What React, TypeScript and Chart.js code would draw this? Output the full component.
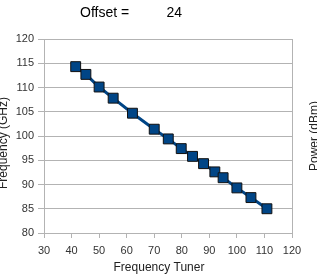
import React, { useEffect, useRef } from "react";
import { Chart, registerables } from "chart.js";

Chart.register(...registerables);

const tunerValues = [41.5, 45.2, 50, 55.1, 62.1, 70, 75.1, 79.8, 83.9, 87.9, 92, 95, 100, 105.1, 110.9];
const frequencyValues = [114.3, 112.7, 110.1, 107.8, 104.7, 101.4, 99.4, 97.4, 95.8, 94.3, 92.6, 91.4, 89.3, 87.3, 85.0];
const titleLabel = "Offset =";
const titleValue = "24";
const xTitle = "Frequency Tuner";
const yTitle = "Frequency (GHz)";
const y2Title = "Power (dBm)";

const FONT = "'Liberation Sans', Arial, sans-serif";
const GRID = "#b3b3b3";

const titlesPlugin = {
  id: "customTitles",
  afterDraw(chart: any) {
    const ctx = chart.ctx;
    ctx.save();
    ctx.fillStyle = "#000";
    ctx.font = `14px ${FONT}`;
    ctx.textBaseline = "middle";
    ctx.textAlign = "left";
    ctx.fillText(titleLabel, 80, 13);
    ctx.fillText(titleValue, 166.5, 13);

    ctx.fillStyle = "#222";
    ctx.font = `12px ${FONT}`;
    ctx.textAlign = "center";
    ctx.fillText(xTitle, 159, 268);

    ctx.save();
    ctx.translate(4, 143);
    ctx.rotate(-Math.PI / 2);
    ctx.fillText(yTitle, 0, 0);
    ctx.restore();

    ctx.save();
    ctx.translate(315, 136);
    ctx.rotate(-Math.PI / 2);
    ctx.fillText(y2Title, 0, 0);
    ctx.restore();
    ctx.restore();
  },
};

export default function App() {
  const ref = useRef<HTMLCanvasElement>(null);

  useEffect(() => {
    document.body.style.margin = "0";
    const canvas = ref.current!;
    const chart = new Chart(canvas, {
      type: "line",
      data: {
        datasets: [
          {
            data: tunerValues.map((x, i) => ({ x, y: frequencyValues[i] })),
            borderColor: "#004586",
            backgroundColor: "#004586",
            borderWidth: 3,
            pointStyle: "rect",
            pointRadius: 7,
            pointBorderColor: "#111",
            pointBorderWidth: 1,
            pointBackgroundColor: "#004586",
            fill: false,
            tension: 0,
          },
        ],
      },
      options: {
        responsive: false,
        animation: false,
        layout: { padding: { top: 39, left: 0, right: 0, bottom: 0 } },
        plugins: {
          legend: { display: false },
          tooltip: { enabled: false },
          title: { display: false },
        },
        scales: {
          x: {
            type: "linear",
            min: 30,
            max: 120,
            ticks: { stepSize: 10, font: { family: FONT, size: 11 }, color: "#333", padding: 6, maxRotation: 0 },
            grid: { drawOnChartArea: false, tickLength: 5, color: GRID },
            border: { color: GRID },
            afterFit: (s: any) => {
              s.height = 45;
            },
          },
          y: {
            type: "linear",
            min: 80,
            max: 120,
            ticks: { stepSize: 5, font: { family: FONT, size: 11 }, color: "#333", padding: 4 },
            grid: { tickLength: 6, color: GRID },
            border: { color: GRID },
            afterFit: (s: any) => {
              s.width = 44;
            },
          },
          y2: {
            type: "linear",
            position: "right",
            min: 80,
            max: 120,
            ticks: { display: false },
            grid: { drawOnChartArea: false, drawTicks: false },
            border: { color: GRID },
            afterFit: (s: any) => {
              s.width = 25;
            },
          },
        },
      },
      plugins: [titlesPlugin],
    });
    return () => chart.destroy();
  }, []);

  return <canvas ref={ref} width={317} height={278} style={{ display: "block" }} />;
}
